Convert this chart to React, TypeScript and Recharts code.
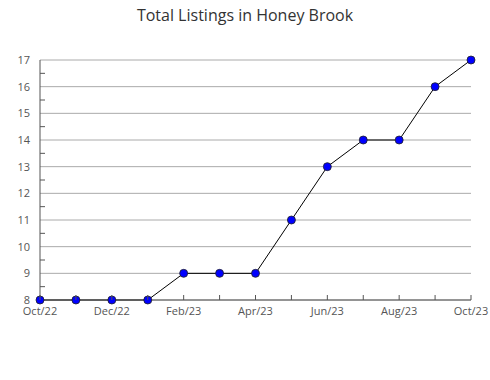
import React from 'react';
import { LineChart, Line, XAxis, YAxis, CartesianGrid } from 'recharts';

const months = ['Oct/22', 'Nov/22', 'Dec/22', 'Jan/23', 'Feb/23', 'Mar/23', 'Apr/23', 'May/23', 'Jun/23', 'Jul/23', 'Aug/23', 'Sep/23', 'Oct/23'];
const listings = [8, 8, 8, 8, 9, 9, 9, 11, 13, 14, 14, 16, 17];
const yMajor = [8, 9, 10, 11, 12, 13, 14, 15, 16, 17];
const yAll = [8, 8.5, 9, 9.5, 10, 10.5, 11, 11.5, 12, 12.5, 13, 13.5, 14, 14.5, 15, 15.5, 16, 16.5, 17];

const data = months.map((m, i) => ({ month: m, value: listings[i] }));

const FONT = '"Open Sans", "Noto Sans", sans-serif';

const YTick = (props: any) => {
  const { x, y, payload } = props;
  const v = payload.value;
  if (Number.isInteger(v)) {
    return (
      <text x={x - 10} y={y + 4} textAnchor="end" fontSize={11} fill="#555" fontFamily={FONT}>
        {v}
      </text>
    );
  }
  return <line x1={x} x2={x + 5} y1={y} y2={y} stroke="#555" />;
};

const XTick = (props: any) => {
  const { x, y, payload, index } = props;
  return (
    <g>
      <line x1={x} x2={x} y1={y} y2={y - 5} stroke="#555" />
      {index % 2 === 0 && (
        <text x={x} y={y + 15} textAnchor="middle" fontSize={11} fill="#555" fontFamily={FONT}>
          {payload.value}
        </text>
      )}
    </g>
  );
};

export default function App() {
  return (
    <div style={{ position: 'absolute', left: 0, top: 0, width: 490, height: 380, background: '#fff' }}>
      <div
        style={{
          position: 'absolute',
          top: 4,
          width: 490,
          textAlign: 'center',
          fontFamily: FONT,
          fontSize: 16,
          color: '#333',
        }}
      >
        Total Listings in Honey Brook
      </div>
      <LineChart width={490} height={380} data={data} margin={{ top: 60, right: 19, bottom: 60, left: 0 }}>
        <CartesianGrid vertical={false} horizontalValues={yMajor} stroke="#aaa" strokeWidth={1} />
        <XAxis
          dataKey="month"
          interval={0}
          tick={<XTick />}
          tickLine={false}
          tickSize={0}
          tickMargin={0}
          axisLine={{ stroke: '#555' }}
          height={20}
        />
        <YAxis
          domain={[8, 17]}
          ticks={yAll}
          interval={0}
          tick={<YTick />}
          tickLine={false}
          tickSize={0}
          tickMargin={0}
          axisLine={{ stroke: '#555' }}
          width={40}
        />
        <Line
          dataKey="value"
          stroke="#000"
          strokeWidth={1}
          isAnimationActive={false}
          dot={{ r: 4, fill: '#0000ff', stroke: '#222', strokeWidth: 0.8 }}
        />
      </LineChart>
    </div>
  );
}
